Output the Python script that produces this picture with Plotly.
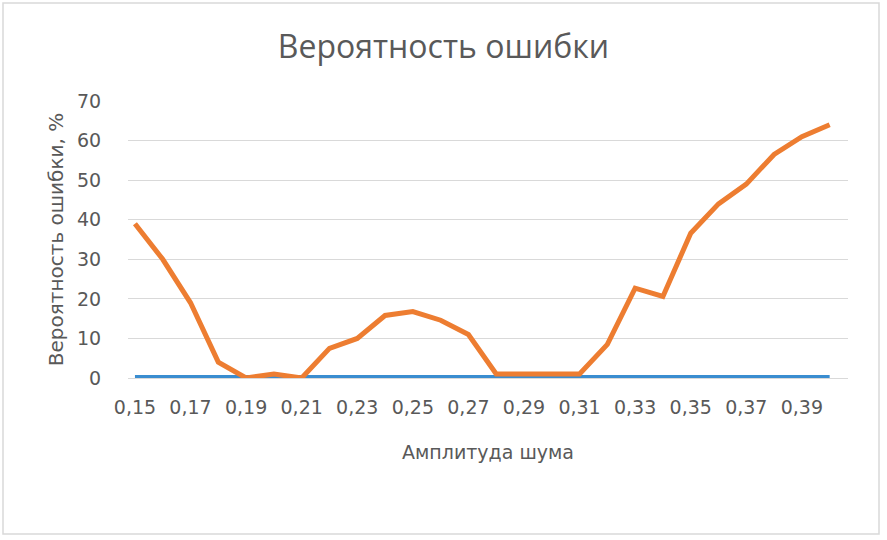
import plotly.graph_objects as go

# amplitude of noise, step 0.01
amplitude = [0.15, 0.16, 0.17, 0.18, 0.19, 0.20, 0.21, 0.22, 0.23, 0.24, 0.25, 0.26, 0.27,
             0.28, 0.29, 0.30, 0.31, 0.32, 0.33, 0.34, 0.35, 0.36, 0.37, 0.38, 0.39, 0.40]
err_blue = [0.1] * 26
err_orange = [39, 30, 19, 4, 0, 1, 0, 7.5, 10, 15.8, 16.8, 14.6, 11,
              1, 1, 1, 1, 8.5, 22.7, 20.6, 36.6, 44, 49, 56.5, 61, 64]
tick_vals = [0.15, 0.17, 0.19, 0.21, 0.23, 0.25, 0.27, 0.29, 0.31, 0.33, 0.35, 0.37, 0.39]

grey = "#595959"
fig = go.Figure()
fig.add_trace(go.Scatter(x=amplitude, y=err_blue, mode="lines",
                         line=dict(color="#3A8DD0", width=5), showlegend=False))
fig.add_trace(go.Scatter(x=amplitude, y=err_orange, mode="lines",
                         line=dict(color="#ED7D31", width=5), showlegend=False))

fig.update_xaxes(title_text="Амплитуда шума", tickvals=tick_vals, tickformat=".2f",
                 range=[0.1475, 0.4066], showgrid=False, showline=True,
                 linecolor="#d9d9d9", linewidth=1,
                 ticks="outside", ticklen=12, tickcolor="rgba(0,0,0,0)",
                 tickfont=dict(size=19, color=grey),
                 title_font=dict(size=19, color=grey), title_standoff=28)
fig.update_yaxes(title_text="Вероятность ошибки, %", range=[0, 70], dtick=10,
                 showgrid=True, gridcolor="#d9d9d9", gridwidth=1, zeroline=False,
                 ticks="outside", ticklen=22, tickcolor="rgba(0,0,0,0)",
                 tickfont=dict(size=19, color=grey),
                 title_font=dict(size=20, color=grey), title_standoff=8)

fig.update_layout(
    width=887, height=540,
    separators=",.",
    font=dict(family="DejaVu Sans, sans-serif"),
    title=dict(text="Вероятность ошибки", x=0.5, xanchor="center", y=0.913, yanchor="middle",
               font=dict(family="Open Sans, sans-serif", size=32, color=grey)),
    margin=dict(l=128, r=39, t=101, b=162),
    paper_bgcolor="white", plot_bgcolor="white",
)
# outer chart border
fig.add_shape(type="rect", xref="paper", yref="paper",
              x0=(3 - 128) / 720, x1=(879 - 128) / 720,
              y0=-(534 - 378) / 277, y1=(378 - 3) / 277,
              line=dict(color="#d9d9d9", width=1.5))

fig.write_html("out.html", config={"displayModeBar": False},
               post_script="document.body.style.margin='0';")
